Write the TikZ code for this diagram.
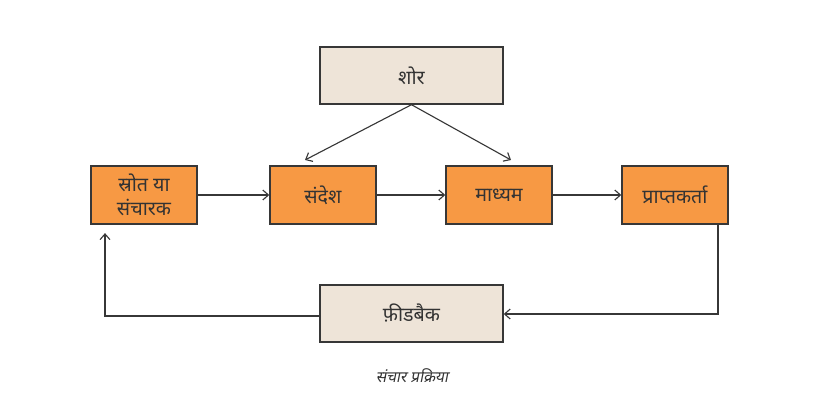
\documentclass[tikz,border=0pt]{standalone}
\usepackage{fontspec}
\newfontfamily\hindi[Script=Devanagari]{Noto Sans}
\newfontfamily\hindiit[Script=Devanagari,FakeSlant=0.2]{Noto Sans}
\usetikzlibrary{arrows.meta}
\definecolor{boxorange}{RGB}{247,153,68}
\definecolor{boxbeige}{RGB}{238,228,216}
\definecolor{edgegray}{RGB}{55,55,55}
\tikzset{
	stage/.style={draw=edgegray, line width=1pt, fill=boxorange, text=black!80, minimum width=2.65cm, minimum height=1.45cm, inner sep=1pt, align=center, font=\hindi\fontsize{14}{17}\selectfont},
	outer/.style={stage, fill=boxbeige, minimum width=4.575cm, minimum height=1.425cm},
	flow/.style={-{Straight Barb[length=4pt,width=7pt]}, edgegray, line width=0.8pt}
}
\begin{document}
\begin{tikzpicture}
	\useasboundingbox (0,0) rectangle (21,10.5);

	\node[stage] (srot) at (3.6,5.625) {स्रोत या\\संचारक};
	\node[stage] (sandesh) at (8.075,5.625) {संदेश};
	\node[stage] (madhyam) at (12.475,5.625) {माध्यम};
	\node[stage] (prapt) at (16.875,5.625) {प्राप्तकर्ता};

	\node[outer] (shor) at (10.2875,8.6125) {शोर};
	\node[outer] (feedback) at (10.2875,2.6625) {फ़ीडबैक};

	\node[font=\hindiit\fontsize{11}{13}\selectfont, text=black!80] (caption) at (10.3,1.1) {संचार प्रक्रिया};

	\coordinate (noiseA) at (7.625,6.5);
	\coordinate (noiseB) at (12.775,6.5);
	\coordinate (backR) at (17.95,2.65);
	\coordinate (backL) at (2.625,2.6);

	\draw[flow] (srot) -- (sandesh);
	\draw[flow] (sandesh) -- (madhyam);
	\draw[flow] (madhyam) -- (prapt);
	\draw[flow] (shor.south) -- (noiseA);
	\draw[flow] (shor.south) -- (noiseB);
	\draw[flow] (prapt.south -| backR) -- (backR) -- (feedback.east |- backR);
	\draw[flow, shorten >=6pt] (feedback.west |- backL) -- (backL) -- (srot.south -| backL);
\end{tikzpicture}
\end{document}
